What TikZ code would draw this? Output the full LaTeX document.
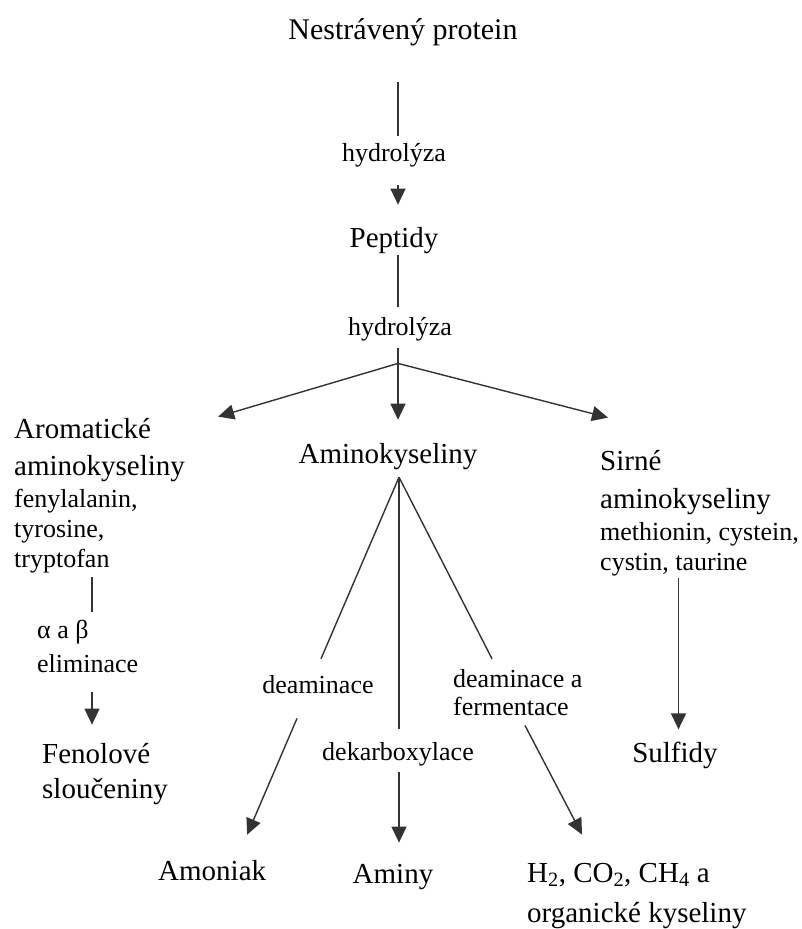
\documentclass[tikz,border=0pt]{standalone}
\usepackage{fontspec}
\setmainfont{Liberation Serif}
\usepackage{tikz}
\usetikzlibrary{arrows.meta, positioning}
\definecolor{LineGray}{HTML}{333333}
\tikzset{
  % Text styles
  bigtext/.style={inner sep=0pt, font=\fontsize{29}{37}\selectfont, align=left},
  smalltext/.style={inner sep=0pt, font=\fontsize{26}{30}\selectfont, align=left},
  % Line styles
  link/.style={line width=1.4pt, LineGray},
  arrow/.style={link, -{Triangle[length=16pt, width=15pt]}}
}

\begin{document}
\begin{tikzpicture}[x=1pt, y=-1pt]
  \useasboundingbox (0,0) rectangle (801,929);

  % Main column
  \node[bigtext, anchor=base, font=\fontsize{30}{37}\selectfont] (protein) at (403,39) {Nestrávený protein};
  \node[smalltext, anchor=base] (hyd1) at (394,161) {hydrolýza};
  \node[bigtext, anchor=base] (peptidy) at (394,247) {Peptidy};
  \node[smalltext, anchor=base] (hyd2) at (400,335) {hydrolýza};
  \node[bigtext, anchor=base] (aminok) at (388,463) {Aminokyseliny};

  % Left branch (base = last line)
  \node[bigtext, anchor=base west] (arom) at (14,475) {Aromatické\\aminokyseliny};
  \node[smalltext, anchor=base west] (aromlist) at (14,567) {fenylalanin,\\tyrosine,\\tryptofan};
  \node[smalltext, anchor=base west, font=\fontsize{26}{34}\selectfont] (elim) at (37,672) {α a β\\eliminace};
  \node[bigtext, anchor=base west, font=\fontsize{29}{35}\selectfont] (fenol) at (42,798) {Fenolové\\sloučeniny};

  % Right branch
  \node[bigtext, anchor=base west, font=\fontsize{29}{38}\selectfont] (sirne) at (600,508) {Sirné\\aminokyseliny};
  \node[smalltext, anchor=base west] (sirnelist) at (600,570) {methionin, cystein,\\cystin, taurine};
  \node[bigtext, anchor=base] (sulfidy) at (675,762) {Sulfidy};

  % Reactions of the amino acids
  \node[smalltext, anchor=base] (deam) at (318,693) {deaminace};
  \node[smalltext, anchor=base] (dekarb) at (398,760) {dekarboxylace};
  \node[smalltext, anchor=base west, font=\fontsize{26}{28}\selectfont] (deamferm) at (453,715) {deaminace a\\fermentace};
  \node[bigtext, anchor=base west] (amoniak) at (158,880) {Amoniak};
  \node[bigtext, anchor=base] (aminy) at (393,883) {Aminy};
  \node[bigtext, anchor=base west, font=\fontsize{29}{40}\selectfont] (plyny) at (527,922) {H\textsubscript{2}, CO\textsubscript{2}, CH\textsubscript{4} a\\organické kyseliny};

  % Split points
  \coordinate (split) at ([xshift=-2pt, yshift=-22.6pt]hyd2.south);
  \coordinate (amsplit) at ([xshift=11pt, yshift=-7.7pt]aminok.south);

  % Hydrolysis
  \draw[link] ([xshift=-5pt, yshift=-36.7pt]protein.south) -- ([xshift=4pt, yshift=7pt]hyd1.north);
  \draw[arrow] ([xshift=4pt, yshift=-18.6pt]hyd1.south) -- ([xshift=4pt, yshift=22pt]peptidy.north);
  \draw[link] ([xshift=4pt, yshift=-1.7pt]peptidy.south) -- ([xshift=-2pt, yshift=10pt]hyd2.north);
  \draw[link] ([xshift=-2pt, yshift=-7.6pt]hyd2.south) -- (split);
  \draw[arrow] (split) -- ([xshift=33pt, yshift=1pt]arom.north east);
  \draw[arrow] (split) -- ([xshift=10pt, yshift=23pt]aminok.north);
  \draw[arrow] (split) -- ([xshift=8pt, yshift=32pt]sirne.north west);

  % Side branches
  \draw[link] ([xshift=78pt, yshift=-4.6pt]aromlist.south west) -- ([xshift=55pt, yshift=7.5pt]elim.north west);
  \draw[arrow] ([xshift=55pt, yshift=-20pt]elim.south west) -- ([xshift=50pt, yshift=18pt]fenol.north west);
  \draw[arrow] ([xshift=78.5pt, yshift=-2.6pt]sirnelist.south west) -- ([xshift=3.5pt, yshift=12pt]sulfidy.north);

  % Amino acid breakdown
  \draw[link] (amsplit) -- ([xshift=3pt, yshift=16pt]deam.north);
  \draw[arrow] ([xshift=-21pt, yshift=-25pt]deam.south) -- ([xshift=35pt, yshift=25pt]amoniak.north);
  \draw[link] (amsplit) -- ([xshift=1pt, yshift=13pt]dekarb.north);
  \draw[arrow] ([xshift=1pt, yshift=-6.6pt]dekarb.south) -- ([xshift=6pt, yshift=21pt]aminy.north);
  \draw[link] (amsplit) -- ([xshift=39pt, yshift=10pt]deamferm.north west);
  \draw[arrow] ([xshift=72pt, yshift=-10pt]deamferm.south west) -- ([xshift=55pt, yshift=28pt]plyny.north west);
\end{tikzpicture}
\end{document}
